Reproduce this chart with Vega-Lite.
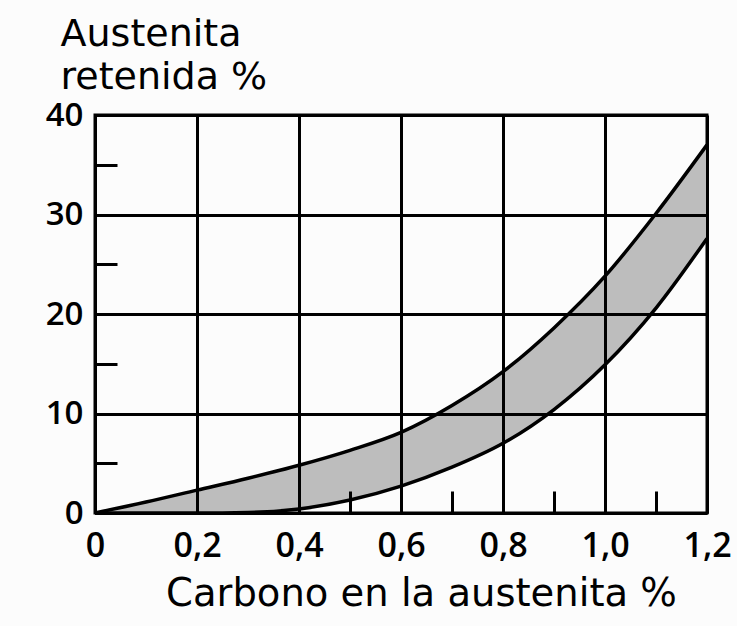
{
  "$schema": "https://vega.github.io/schema/vega-lite/v6.json",
  "autosize": "none",
  "width": 612,
  "height": 398,
  "padding": {"left": 95, "top": 115, "right": 30, "bottom": 113},
  "background": "#fcfcfc",
  "config": {
    "view": {"stroke": "black", "strokeWidth": 3},
    "font": "DejaVu Sans"
  },
  "data": {
    "values": [
      {"c": 0.0, "hi": 0.0, "lo": 0.0},
      {"c": 0.1, "hi": 1.1, "lo": 0.0},
      {"c": 0.2, "hi": 2.3, "lo": 0.0},
      {"c": 0.3, "hi": 3.5, "lo": 0.05},
      {"c": 0.4, "hi": 4.8, "lo": 0.4},
      {"c": 0.5, "hi": 6.3, "lo": 1.3},
      {"c": 0.6, "hi": 8.1, "lo": 2.7},
      {"c": 0.7, "hi": 10.8, "lo": 4.6},
      {"c": 0.8, "hi": 14.2, "lo": 7.0},
      {"c": 0.9, "hi": 18.6, "lo": 10.4},
      {"c": 1.0, "hi": 23.8, "lo": 14.9},
      {"c": 1.1, "hi": 30.1, "lo": 20.6},
      {"c": 1.2, "hi": 37.0, "lo": 27.6}
    ]
  },
  "encoding": {
    "x": {
      "field": "c",
      "type": "quantitative",
      "scale": {"domain": [0, 1.2], "nice": false, "zero": false},
      "axis": {
        "values": [0, 0.2, 0.4, 0.5, 0.6, 0.7, 0.8, 0.9, 1.0, 1.1, 1.2],
        "zindex": 1,
        "domain": false,
        "grid": true,
        "gridColor": "black",
        "gridWidth": 3,
        "gridOpacity": {"condition": {"test": "round(datum.value*10) % 2 == 1", "value": 0}, "value": 1},
        "ticks": true,
        "tickSize": -22,
        "tickWidth": 3,
        "tickColor": "black",
        "labelExpr": "round(datum.value*10) % 2 == 1 ? '' : (datum.value == 0 ? '0' : replace(format(datum.value, '.1f'), '.', ','))",
        "labelFont": "Open Sans",
        "labelFontSize": 34,
        "labelFontWeight": 600,
        "labelColor": "black",
        "labelPadding": 38,
        "labelFlush": false,
        "labelOverlap": false,
        "title": "Carbono en la austenita %",
        "titleFont": "DejaVu Sans",
        "titleFontSize": 38.5,
        "titleFontWeight": "normal",
        "titleColor": "black",
        "titleAlign": "center",
        "titleBaseline": "alphabetic",
        "titleX": 326,
        "titleY": 92
      }
    },
    "y": {
      "field": "hi",
      "type": "quantitative",
      "scale": {"domain": [0, 40], "nice": false},
      "axis": {
        "values": [0, 5, 10, 15, 20, 25, 30, 35, 40],
        "zindex": 1,
        "domain": false,
        "grid": true,
        "gridColor": "black",
        "gridWidth": 3,
        "gridOpacity": {"condition": {"test": "datum.value % 10 != 0", "value": 0}, "value": 1},
        "ticks": true,
        "tickSize": -22,
        "tickWidth": 3,
        "tickColor": "black",
        "labelExpr": "datum.value % 10 != 0 ? '' : datum.label",
        "labelFont": "Open Sans",
        "labelFontSize": 33,
        "labelFontWeight": 600,
        "labelColor": "black",
        "labelPadding": 34,
        "labelFlush": false,
        "labelOverlap": false,
        "title": ["Austenita", "retenida %"],
        "titleFont": "DejaVu Sans",
        "titleFontSize": 38,
        "titleFontWeight": "normal",
        "titleColor": "black",
        "titleAngle": 0,
        "titleAlign": "left",
        "titleBaseline": "alphabetic",
        "titleLineHeight": 43,
        "titleX": -35,
        "titleY": -70
      }
    }
  },
  "layer": [
    {
      "mark": {"type": "area", "color": "#bdbdbd", "opacity": 1, "interpolate": "monotone"},
      "encoding": {"y2": {"field": "lo"}}
    },
    {
      "mark": {"type": "line", "color": "black", "strokeWidth": 3.5, "interpolate": "monotone"},
      "encoding": {}
    },
    {
      "mark": {"type": "line", "color": "black", "strokeWidth": 3.5, "interpolate": "monotone"},
      "encoding": {"y": {"field": "lo", "type": "quantitative"}}
    }
  ]
}
